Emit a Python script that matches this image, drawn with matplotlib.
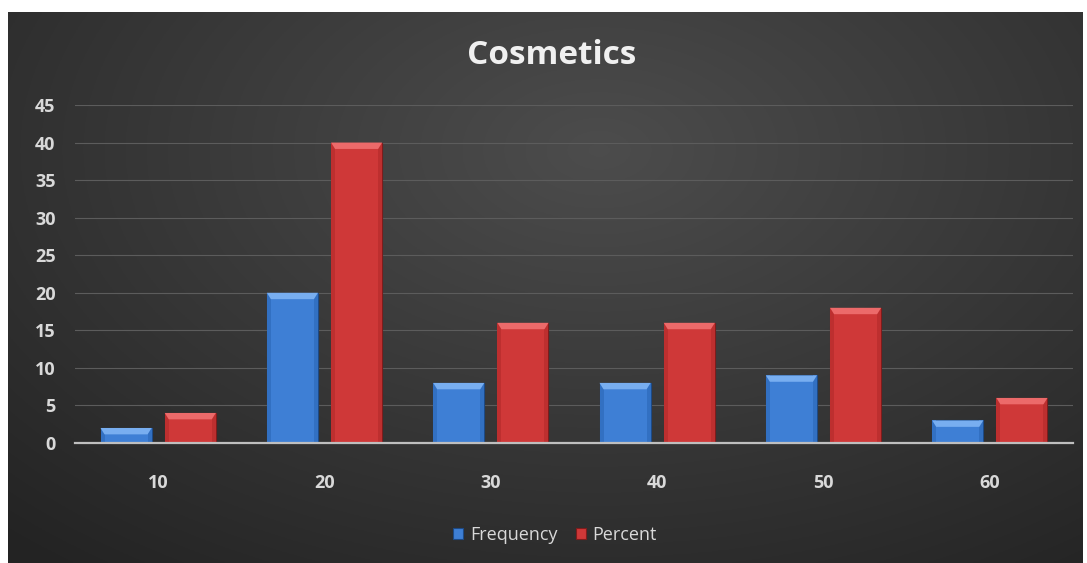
import numpy as np
import matplotlib
matplotlib.use("Agg")
import matplotlib.pyplot as plt
from matplotlib.patches import Rectangle

categories = ["10", "20", "30", "40", "50", "60"]
frequency = [2, 20, 8, 8, 9, 3]
percent = [4, 40, 16, 16, 18, 6]
series_names = ["Frequency", "Percent"]
yticks = [0, 5, 10, 15, 20, 25, 30, 35, 40, 45]

W, H = 1087, 563
fig = plt.figure(figsize=(W / 100, H / 100), dpi=100)
fig.patch.set_facecolor("white")

# background panel with radial gradient
bx0, by0, bx1, by1 = 8 / W, 0, 1083 / W, 1 - 12 / H
bg = fig.add_axes([bx0, by0, bx1 - bx0, by1 - by0])
yy, xx = np.mgrid[0:1:300j, 0:1:600j]
r = np.sqrt(((xx - 0.55) / 0.75) ** 2 + ((yy - 0.25) / 0.9) ** 2)
val = np.clip(0.30 - 0.15 * r, 0.14, 0.30)
img = np.dstack([val, val, val])
bg.imshow(img, aspect="auto", extent=[0, 1, 0, 1], origin="upper")
bg.set_axis_off()

ax = fig.add_axes([75 / W, 1 - 443 / H, (1073 - 75) / W, (443 - 105) / H])
ax.set_facecolor("none")

x = np.arange(len(categories))
bw = 0.307
off = 0.193
font = "Open Sans"
tick_color = "#d9d9d9"

styles = [
    dict(main="#3e7fd5", top="#78aef0", side="#3270c2", edge="#1d4a86"),
    dict(main="#cf3838", top="#ec6a6a", side="#bd2f2f", edge="#7e1c1c"),
]

for vals, sgn, st, name in zip([frequency, percent], [-1, 1], styles, series_names):
    xs = x + sgn * off
    ax.bar(xs, vals, width=bw, color=st["main"], edgecolor=st["edge"], linewidth=0.8, zorder=3, label=name)
    for xi, v in zip(xs, vals):
        bev_x = 0.024
        bev_y = min(0.85, v * 0.45)
        ax.add_patch(Rectangle((xi - bw / 2, 0), bev_x, v, color=st["side"], zorder=4, lw=0))
        ax.add_patch(Rectangle((xi + bw / 2 - bev_x, 0), bev_x, v, color=st["side"], zorder=4, lw=0))
        ax.fill([xi - bw / 2, xi + bw / 2, xi + bw / 2 - bev_x, xi - bw / 2 + bev_x],
                [v, v, v - bev_y, v - bev_y], color=st["top"], zorder=5, lw=0)

ax.set_xlim(-0.5, len(categories) - 0.5)
ax.set_ylim(0, 45)
ax.set_yticks(yticks)
ax.set_xticks(x)
ax.set_xticklabels(categories)
ax.grid(axis="y", color="#5c5c5c", linewidth=0.8, zorder=0)
ax.set_axisbelow(True)
for s in ["top", "right", "left"]:
    ax.spines[s].set_visible(False)
ax.spines["bottom"].set_color("#bfbfbf")
ax.spines["bottom"].set_linewidth(1.6)
ax.spines["bottom"].set_zorder(6)
ax.tick_params(axis="both", length=0, colors=tick_color, labelsize=13)
ax.tick_params(axis="y", pad=14)
ax.tick_params(axis="x", pad=22)
for lab in ax.get_xticklabels() + ax.get_yticklabels():
    lab.set_fontfamily(font)
    lab.set_fontweight("bold")

fig.text(552 / W, 1 - 55 / H, "Cosmetics", ha="center", va="center", color="#f0f0f0",
         fontsize=24, fontweight="bold", fontfamily=font)

leg = fig.legend(loc="center", bbox_to_anchor=(555 / W, 1 - 535 / H), ncol=2, frameon=False,
                 handlelength=0.55, handleheight=0.55, handletextpad=0.4, columnspacing=1.0,
                 prop={"family": font, "size": 13})
for t in leg.get_texts():
    t.set_color(tick_color)

fig.savefig("out.png", dpi=100, facecolor=fig.get_facecolor())
